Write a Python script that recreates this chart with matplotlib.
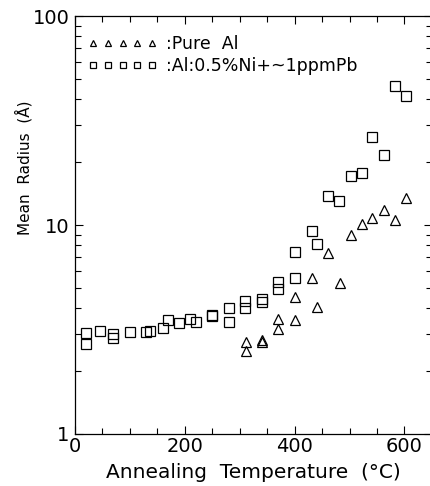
import matplotlib
matplotlib.use('Agg')
import matplotlib.pyplot as plt
from matplotlib.ticker import MultipleLocator, LogLocator, NullFormatter

plt.rcParams['font.family'] = ['DejaVu Sans']

# Pure Al (triangles)
al_temp = [311, 311, 340, 340, 370, 370, 400, 400, 431, 441, 461, 482,
           502, 522, 541, 562, 582, 602]
al_radius = [2.77, 2.5, 2.82, 2.75, 3.54, 3.19, 4.54, 3.51, 5.56, 4.06, 7.37, 5.3,
             9.0, 10.1, 10.8, 11.8, 10.6, 13.4]

# Al:0.5%Ni + ~1ppm Pb (squares)
ni_temp = [20, 20, 45, 70, 70, 100, 130, 136, 161, 169, 190, 210, 220, 250, 250,
           281, 281, 310, 310, 340, 340, 370, 370, 400, 400, 432, 441, 461, 480,
           502, 522, 541, 562, 582, 602]
ni_radius = [3.03, 2.69, 3.12, 3.0, 2.87, 3.09, 3.09, 3.1, 3.23, 3.51, 3.41, 3.54,
             3.45, 3.65, 3.7, 3.99, 3.42, 4.33, 3.99, 4.43, 4.27, 5.35, 4.92, 5.6,
             7.4, 9.4, 8.1, 13.8, 13.0, 17.2, 17.8, 26.5, 21.7, 46.4, 41.6]

fig = plt.figure(figsize=(4.3, 4.86), dpi=100)
ax = fig.add_axes([0.1744, 0.107, 0.83, 0.86])

ax.plot(al_temp, al_radius, linestyle='none', marker='^', markersize=7,
        markerfacecolor='none', markeredgecolor='black', markeredgewidth=0.9,
        label=':Pure  Al')
ax.plot(ni_temp, ni_radius, linestyle='none', marker='s', markersize=6.8,
        markerfacecolor='none', markeredgecolor='black', markeredgewidth=0.9,
        label=':Al:0.5%Ni+~1ppmPb')

ax.set_yscale('log')
ax.set_xlim(0, 650)
ax.set_ylim(1, 100)

ax.xaxis.set_major_locator(MultipleLocator(200))
ax.xaxis.set_minor_locator(MultipleLocator(50))
ax.yaxis.set_minor_locator(LogLocator(base=10, subs=range(2, 10)))
ax.yaxis.set_minor_formatter(NullFormatter())
ax.set_yticks([1, 10, 100])
ax.set_yticklabels(['1', '10', '100'])

ax.tick_params(which='both', direction='in', top=True, right=True,
               labelsize=14, width=0.8)
ax.tick_params(axis='x', pad=2)
ax.tick_params(axis='y', pad=4)
ax.tick_params(which='major', length=6)
ax.tick_params(which='minor', length=4)
for s in ax.spines.values():
    s.set_linewidth(0.9)

ax.set_xlabel('Annealing  Temperature  (°C)', fontsize=14.5, labelpad=5)
ax.set_ylabel('Mean  Radius  (Å)', fontsize=11)
ax.yaxis.set_label_coords(-0.12, 0.636)

leg = ax.legend(loc='upper left', bbox_to_anchor=(0.0, 0.985), numpoints=5,
                handlelength=4.0, handletextpad=0.5, frameon=False,
                fontsize=12.5, markerscale=0.6, borderaxespad=0.35,
                labelspacing=0.2)

fig.savefig('out.png', dpi=100)
